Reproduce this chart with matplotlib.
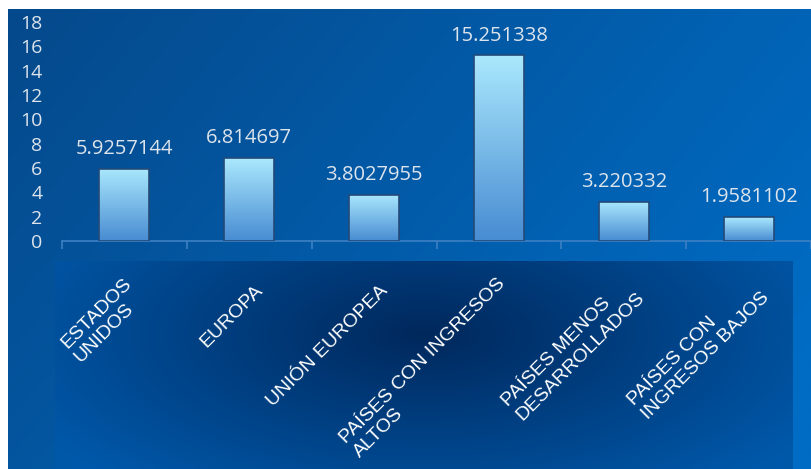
import numpy as np
import matplotlib.pyplot as plt
from matplotlib.transforms import ScaledTranslation

categorias = ['ESTADOS\nUNIDOS', 'EUROPA', 'UNIÓN EUROPEA',
              'PAÍSES CON INGRESOS\nALTOS', 'PAÍSES MENOS\nDESARROLLADOS',
              'PAÍSES CON\nINGRESOS BAJOS']
valores = [5.9257144, 6.814697, 3.8027955, 15.251338, 3.220332, 1.9581102]
etiquetas = ['5.9257144', '6.814697', '3.8027955', '15.251338', '3.220332', '1.9581102']
marcas_y = [0, 2, 4, 6, 8, 10, 12, 14, 16, 18]

W, H = 811, 469
fig = plt.figure(figsize=(W / 100, H / 100), dpi=100)
fig.patch.set_facecolor('white')

# fondo con degradado
bg = fig.add_axes([0, 0, 1, 1], zorder=0)
bg.set_axis_off()
yy, xx = np.mgrid[0:1:200j, 0:1:300j]
t = np.clip(xx * 0.75 + yy * 0.35, 0, 1)
c0 = np.array([0x05, 0x49, 0x8b]) / 255
c1 = np.array([0x00, 0x6c, 0xc4]) / 255
fondo = c0 + (c1 - c0) * t[..., None]
bg.imshow(fondo, extent=[8 / W, 1, 0, 1 - 10 / H], aspect='auto', origin='upper')

# panel inferior (degradado radial)
yy, xx = np.mgrid[0:1:150j, 0:1:300j]
d = np.sqrt(((xx - 0.5) / 0.6) ** 2 + ((yy - 0.35) / 0.95) ** 2)
d = np.clip(d, 0, 1)
p0 = np.array([0x00, 0x28, 0x5c]) / 255
p1 = np.array([0x00, 0x58, 0xa9]) / 255
panel = p0 + (p1 - p0) * d[..., None]
bg.imshow(panel, extent=[55 / W, 793 / W, 0, 1 - 261 / H], aspect='auto', origin='upper')
bg.set_xlim(0, 1)
bg.set_ylim(0, 1)

# ejes principales
ax = fig.add_axes([62 / W, 1 - 241 / H, 1 - 62 / W, (241 - 22) / H], zorder=2)
ax.patch.set_alpha(0)
x = np.arange(len(valores))
ax.set_xlim(-0.5, len(valores) - 0.5)
ax.set_ylim(0, 18)

barras = ax.bar(x, valores, width=0.4, color='none', edgecolor='#244a78', lw=1.2, zorder=3)
grad = np.linspace(0, 1, 100)[:, None]
top = np.array([0xaa, 0xe8, 0xfd]) / 255
bot = np.array([0x48, 0x8c, 0xd2]) / 255
grad_img = (top + (bot - top) * grad[..., None]) * np.ones((1, 2, 1))
for b in barras:
    bx, by = b.get_x(), b.get_y()
    im = ax.imshow(grad_img, extent=[bx, bx + b.get_width(), by, by + b.get_height()],
                   aspect='auto', origin='upper', zorder=2.5)
    im.set_clip_path(b)

for i, (v, lab) in enumerate(zip(valores, etiquetas)):
    ax.annotate(lab, (i, v), xytext=(0, 7), textcoords='offset points',
                ha='center', va='bottom', color='#dde4ec', fontsize=14.5,
                family='Open Sans')

ax.set_yticks(marcas_y)
ax.tick_params(axis='y', length=0, pad=14, labelcolor='#dde4ec', labelsize=14)
for lab in ax.get_yticklabels():
    lab.set_family('Open Sans')

for s in ['left', 'top', 'right']:
    ax.spines[s].set_visible(False)
ax.spines['bottom'].set_color('#3d80c4')
ax.spines['bottom'].set_linewidth(1.2)

ax.set_xticks(np.arange(-0.5, len(valores), 1), minor=True)
ax.tick_params(axis='x', which='minor', length=6, color='#3d80c4', width=1.2)
ax.set_xticks(x)
ax.set_xticklabels(categorias, rotation=45, ha='right', va='center',
                   rotation_mode='anchor', multialignment='left',
                   color='white', fontsize=14, family='Liberation Sans')
ax.tick_params(axis='x', which='major', length=0, pad=0)
desp = ScaledTranslation(0.11, -0.47, fig.dpi_scale_trans)
for lab in ax.get_xticklabels():
    lab.set_transform(lab.get_transform() + desp)

fig.savefig('out.png', dpi=100)
